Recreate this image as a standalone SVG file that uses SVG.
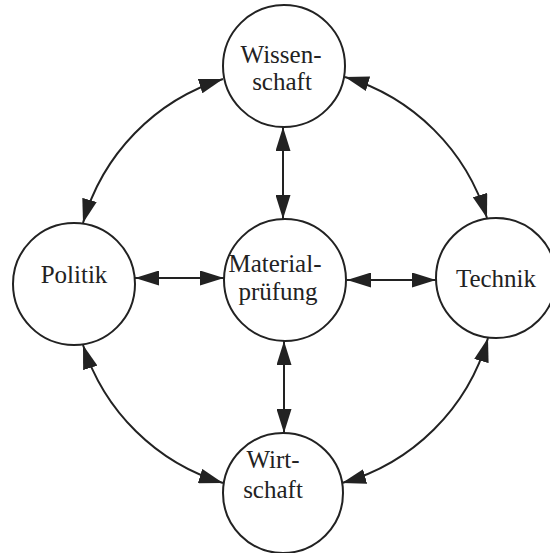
<svg xmlns="http://www.w3.org/2000/svg" width="550" height="553" viewBox="0 0 550 553">
<style>
.node circle{fill:#fff;stroke:#222;stroke-width:2}
.node text{font-family:"Liberation Serif","Times New Roman",serif;font-size:25px;fill:#222;text-anchor:middle}
#connectors path,#connectors line{fill:none;stroke:#222;stroke-width:2;marker-start:url(#ah);marker-end:url(#ah)}
</style>
<defs>
<marker id="ah" markerUnits="userSpaceOnUse" markerWidth="24" markerHeight="15" refX="24" refY="7.5" orient="auto-start-reverse" viewBox="0 0 24 15">
<path d="M0,0 L24,7.5 L0,15 Z" fill="#222"/>
</marker>
</defs>
<rect width="550" height="553" fill="#fff"/>
<g id="connectors">
<path d="M223,79 A211,211 0 0 0 83,223"/>
<path d="M345,77 A211,211 0 0 1 487,218"/>
<path d="M83,345 A211,211 0 0 0 223,483"/>
<path d="M488,338 A211,211 0 0 1 342,483"/>
<line x1="283" y1="127" x2="283" y2="219"/>
<line x1="135" y1="278" x2="224" y2="278"/>
<line x1="347" y1="280" x2="436" y2="280"/>
<line x1="284" y1="341" x2="284" y2="433"/>
</g>
<g id="wissenschaft" class="node">
<circle cx="284" cy="66" r="61"/>
<text x="281" y="63">Wissen-</text>
<text x="282" y="90">schaft</text>
</g>
<g id="politik" class="node">
<circle cx="74" cy="284" r="61"/>
<text x="74" y="283">Politik</text>
</g>
<g id="materialpruefung" class="node">
<circle cx="285" cy="280" r="61"/>
<text x="275" y="272">Material-</text>
<text x="278" y="300">prüfung</text>
</g>
<g id="technik" class="node">
<circle cx="496" cy="278" r="60"/>
<text x="496" y="287">Technik</text>
</g>
<g id="wirtschaft" class="node">
<circle cx="283" cy="493" r="60"/>
<text x="273" y="468">Wirt-</text>
<text x="273" y="498">schaft</text>
</g>
</svg>
